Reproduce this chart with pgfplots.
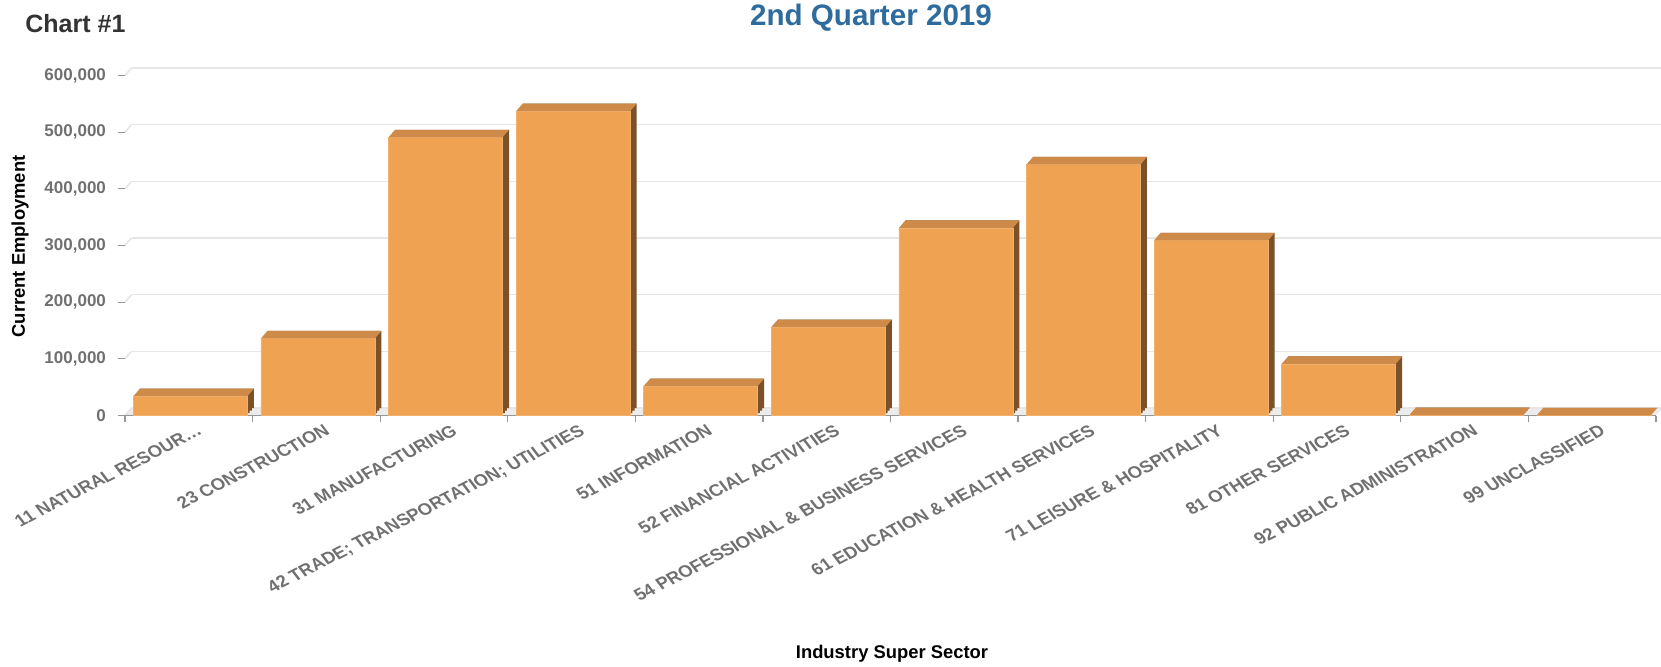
\documentclass[border=0pt]{standalone}
\usepackage{fontspec}
\setmainfont{Liberation Sans}
\usepackage{pgfplots}
\usepackage{pgfplotstable}
\pgfplotsset{compat=1.18}
\definecolor{barfront}{RGB}{238,162,82}
\definecolor{bartop}{RGB}{205,138,72}
\definecolor{barside}{RGB}{122,81,40}
\definecolor{gridc}{RGB}{230,230,230}
\definecolor{floorc}{RGB}{236,236,236}
\definecolor{ticklab}{RGB}{112,112,112}
\definecolor{axisc}{RGB}{150,150,150}
\definecolor{titleblue}{RGB}{46,108,158}
\definecolor{darktext}{RGB}{51,51,51}
% top face of a 3D bar, drawn at the top-centre of the front face
\pgfdeclareplotmark{topface}{%
  \pgfpathmoveto{\pgfpoint{-27.7pt}{0pt}}%
  \pgfpathlineto{\pgfpoint{29.3pt}{0pt}}%
  \pgfpathlineto{\pgfpoint{32.55pt}{3.75pt}}%
  \pgfpathlineto{\pgfpoint{-24.45pt}{3.75pt}}%
  \pgfpathclose\pgfusepathqfill}
\pgfplotstableread{
x y
0 34000
1 136000
2 491000
3 537000
4 52000
5 156000
6 331000
7 443000
8 309000
9 91000
10 500
11 300
}\datatable
\begin{document}
\begin{tikzpicture}
\begin{axis}[
  set layers,
  at={(62.5pt,125.25pt)}, anchor=south west,
  scale only axis, width=765.5pt, height=170pt,
  xmin=-0.5, xmax=11.5, ymin=0, ymax=600000,
  clip=false,
  axis x line*=bottom, axis y line*=left,
  y axis line style={draw=none},
  x axis line style={axisc, line width=0.8pt},
  xtick={0,1,2,3,4,5,6,7,8,9,10,11},
  xticklabels={{11 NATURAL RESOUR\ldots}, {23 CONSTRUCTION}, {31 MANUFACTURING}, {42 TRADE; TRANSPORTATION; UTILITIES}, {51 INFORMATION}, {52 FINANCIAL ACTIVITIES}, {54 PROFESSIONAL \& BUSINESS SERVICES}, {61 EDUCATION \& HEALTH SERVICES}, {71 LEISURE \& HOSPITALITY}, {81 OTHER SERVICES}, {92 PUBLIC ADMINISTRATION}, {99 UNCLASSIFIED}},
  major x tick style={draw=none},
  minor xtick={-0.5,0.5,1.5,2.5,3.5,4.5,5.5,6.5,7.5,8.5,9.5,10.5,11.5},
  minor x tick style={axisc, line width=0.6pt},
  minor tick length=3pt,
  tick align=outside,
  ytick={0,100000,200000,300000,400000,500000,600000},
  yticklabels={{0},{100,000},{200,000},{300,000},{400,000},{500,000},{600,000}},
  major y tick style={axisc, line width=0.6pt},
  major tick length=3.5pt,
  scaled y ticks=false,
  yticklabel style={font=\bfseries\fontsize{8.5}{10}\selectfont, text=ticklab, xshift=-2.5pt},
  xticklabel style={font=\bfseries\fontsize{8.8}{10}\selectfont, text=ticklab, rotate=27, xslant=-0.18, anchor=north east, xshift=3.5pt, yshift=-1pt, inner sep=1pt},
  ymajorgrids,
  major grid style={gridc, line width=0.8pt, xshift=3.25pt, yshift=3.75pt},
]
% floor of the 3D plot
\begin{pgfonlayer}{axis background}
\fill[floorc] (axis cs:-0.5,0) -- (axis cs:11.5,0) -- ++(3.25pt,3.75pt) -- ([shift={(3.25pt,3.75pt)}]axis cs:-0.5,0) -- cycle;
\pgfplotsinvokeforeach{0,100000,200000,300000,400000,500000,600000}{
  \draw[gridc, line width=0.8pt] (axis cs:-0.5,#1) -- ++(3.25pt,3.75pt);
}
\end{pgfonlayer}
% side (depth) of the bars
\addplot[ybar, bar width=57pt, bar shift=0.8pt, fill=barside, draw=none, xshift=1.1pt, yshift=1.25pt] table[x=x,y=y] {\datatable};
\addplot[ybar, bar width=57pt, bar shift=0.8pt, fill=barside, draw=none, xshift=2.2pt, yshift=2.5pt] table[x=x,y=y] {\datatable};
\addplot[ybar, bar width=57pt, bar shift=0.8pt, fill=barside, draw=none, xshift=3.25pt, yshift=3.75pt] table[x=x,y=y] {\datatable};
% front face
\addplot[ybar, bar width=57pt, bar shift=0.8pt, fill=barfront, draw=barfront!85!white, line width=0.3pt] table[x=x,y=y] {\datatable};
% top face
\addplot[only marks, mark=topface, mark options={fill=bartop, draw=none}] table[x=x,y=y] {\datatable};
\end{axis}
\node[font=\bfseries\fontsize{9.2}{11}\selectfont, rotate=90] at (10pt,209.75pt) {Current Employment};
\node[font=\bfseries\fontsize{9.2}{11}\selectfont] at (446pt,6pt) {Industry Super Sector};
\node[font=\bfseries\fontsize{12.5}{14}\selectfont, text=darktext, anchor=west, inner sep=0pt] at (12.5pt,321.4pt) {Chart \#1};
\node[font=\bfseries\fontsize{14.8}{17}\selectfont, text=titleblue] at (435.5pt,324pt) {2nd Quarter 2019};
\pgfresetboundingbox
\path[use as bounding box] (0,0) rectangle (830.5pt,333pt);
\end{tikzpicture}
\end{document}
